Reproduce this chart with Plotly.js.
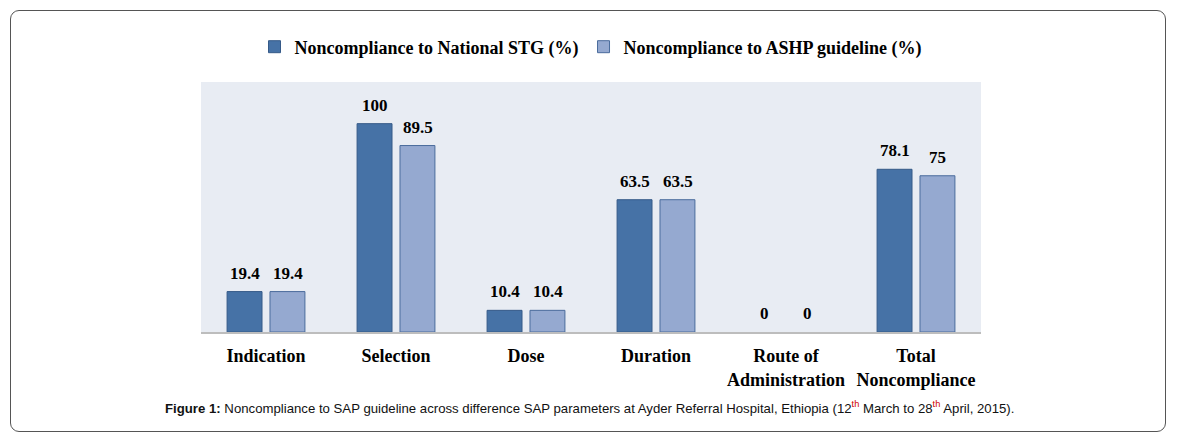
<!DOCTYPE html>
<html>
<head>
<meta charset="utf-8">
<script src="https://cdn.plot.ly/plotly-3.0.1.min.js"></script>
<style>
html,body{margin:0;padding:0;background:#fff;}
#frame{position:absolute;left:10px;top:10px;width:1156px;height:422px;border:1.3px solid #555;border-radius:9px;box-sizing:border-box;}
#chart{position:absolute;left:0;top:0;width:1177px;height:444px;}
</style>
</head>
<body>
<div id="frame"></div>
<div id="chart"></div>
<script>
var categories = ["Indication", "Selection", "Dose", "Duration", "Route of<br>Administration", "Total<br>Noncompliance"];
var nationalSTG = [19.4, 100, 10.4, 63.5, 0, 78.1];
var ashpGuideline = [19.4, 89.5, 10.4, 63.5, 0, 75];
var seriesNames = ["Noncompliance to National STG (%)", "Noncompliance to ASHP guideline (%)"];

var serif = "Liberation Serif, Times New Roman, serif";
var labelFont = {family: serif, size: 17, color: "#000", weight: "bold"};

function outlineWidths(vals) { return vals.map(function (v) { return v === 0 ? 0 : 1; }); }

var traces = [
  {
    type: "bar", x: categories, y: nationalSTG, name: seriesNames[0],
    marker: {color: "#4672a6", line: {color: "#355a88", width: outlineWidths(nationalSTG)}},
    hoverinfo: "y"
  },
  {
    type: "bar", x: categories, y: ashpGuideline, name: seriesNames[1],
    marker: {color: "#95a9d0", line: {color: "#4a6b9c", width: outlineWidths(ashpGuideline)}},
    hoverinfo: "y"
  }
];

// value labels above the bars, placed through the axes' scales
var labelShift = 21.5;
var annotations = [];
[nationalSTG, ashpGuideline].forEach(function (vals, s) {
  vals.forEach(function (v, i) {
    annotations.push({
      xref: "x", yref: "y", x: categories[i], y: v,
      xshift: (s === 0 ? -1 : 1) * labelShift, yshift: 18.5,
      xanchor: "center", yanchor: "middle", showarrow: false,
      text: String(v), font: labelFont
    });
  });
});

annotations.push({
  xref: "paper", yref: "paper", x: 0.5, y: -0.3, xanchor: "center", yanchor: "middle",
  xshift: -2, showarrow: false,
  font: {family: "Liberation Sans Narrow, Arial Narrow, Liberation Sans, sans-serif", size: 13.2, color: "#111"},
  text: "<b>Figure 1:</b> Noncompliance to SAP guideline across difference SAP parameters at Ayder Referral Hospital, Ethiopia (12<sup><span style='color:#d00000'>th</span></sup> March to 28<sup><span style='color:#d00000'>th</span></sup> April, 2015)."
});

var layout = {
  width: 1177, height: 444,
  paper_bgcolor: "rgba(0,0,0,0)",
  plot_bgcolor: "#e8ecf3",
  margin: {l: 201, r: 196, t: 82, b: 112},
  barmode: "group", bargap: 0.34, bargroupgap: 0.186,
  showlegend: true,
  legend: {
    orientation: "h", x: 0.5, xanchor: "center", y: 1.14, yanchor: "middle",
    font: {family: serif, size: 18, color: "#000", weight: "bold"},
    itemwidth: 30, bgcolor: "rgba(0,0,0,0)"
  },
  xaxis: {
    showline: true, linecolor: "#bdbdbd", linewidth: 1.5,
    ticks: "", ticklabelstandoff: 7,
    tickfont: {family: serif, size: 18, color: "#000", weight: "bold"},
    showgrid: false, zeroline: false
  },
  yaxis: {
    range: [0, 120], visible: false, showgrid: false, zeroline: false
  },
  annotations: annotations
};

Plotly.newPlot("chart", traces, layout, {displayModeBar: false, staticPlot: true});
</script>
</body>
</html>
